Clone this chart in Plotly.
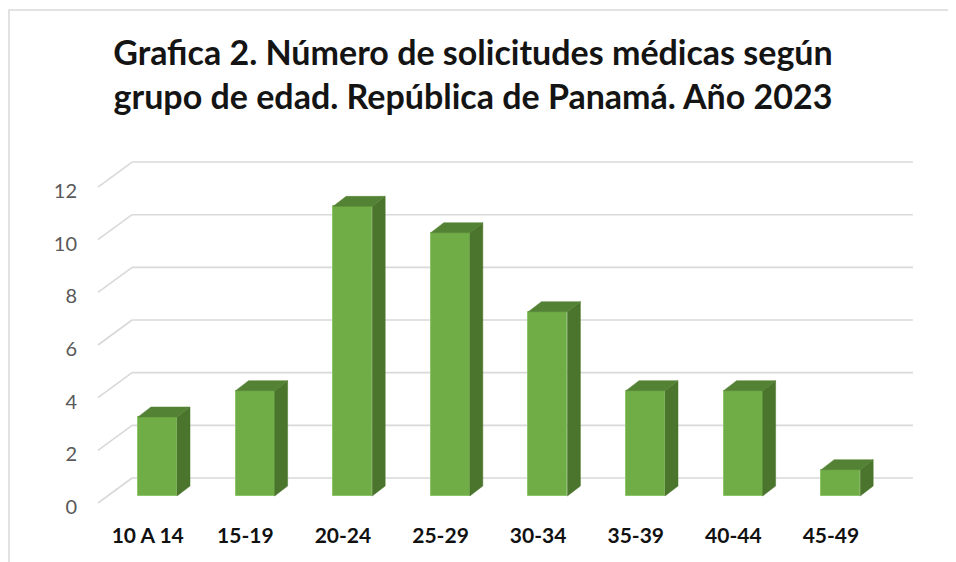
import plotly.graph_objects as go

categorias = ['10 A 14', '15-19', '20-24', '25-29', '30-34', '35-39', '40-44', '45-49']
solicitudes = [3, 4, 11, 10, 7, 4, 4, 1]
ticks_y = [0, 2, 4, 6, 8, 10, 12]

# pseudo 3D geometry (in data units)
ANCHO = 0.40      # bar width
PROF_X = 0.133    # bar depth, x
PROF_Y = 0.38     # bar depth, y
PARED_X = -0.26   # back wall left
FRENTE_X = -0.61  # front grid end
PARED_DY = 0.684
FRENTE_DY = -0.266
FIN_X = 7.74

VERDE = '#70AD47'
VERDE_LADO = '#4B742C'
VERDE_TOPE = '#548235'
GRID = '#D9D9D9'

# the page body adds 8px, so work in window pixels minus 8
OFF = 8
W, H = 956 - OFF, 562 - OFF
L, R, T, B = 84 - OFF, 930 - OFF, 150 - OFF, 520 - OFF
PX_X = 97.6
PX_Y = 26.33
X0_PX, Y0_PX = 157.5 - OFF, 496 - OFF

x_rango = [(L - X0_PX) / PX_X, (R - X0_PX) / PX_X]
y_rango = [(Y0_PX - B) / PX_Y, (Y0_PX - T) / PX_Y]

fig = go.Figure()

# grid lines: back wall + diagonal to front (below the bars)
for v in ticks_y:
    fig.add_shape(type='line', xref='x', yref='y', layer='below',
                  x0=FRENTE_X, y0=v + FRENTE_DY, x1=PARED_X, y1=v + PARED_DY,
                  line=dict(color=GRID, width=1.6))
    fig.add_shape(type='line', xref='x', yref='y', layer='below',
                  x0=PARED_X, y0=v + PARED_DY, x1=FIN_X, y1=v + PARED_DY,
                  line=dict(color=GRID, width=1.6))

# side and top faces
for i, v in enumerate(solicitudes):
    xr = i + ANCHO / 2
    xl = i - ANCHO / 2
    fig.add_trace(go.Scatter(
        x=[xr, xr + PROF_X, xr + PROF_X, xr, xr],
        y=[0, PROF_Y, v + PROF_Y, v, 0],
        fill='toself', fillcolor=VERDE_LADO, mode='lines',
        line=dict(color=VERDE_LADO, width=0.5), hoverinfo='skip', showlegend=False))
    fig.add_trace(go.Scatter(
        x=[xl, xr, xr + PROF_X, xl + PROF_X, xl],
        y=[v, v, v + PROF_Y, v + PROF_Y, v],
        fill='toself', fillcolor=VERDE_TOPE, mode='lines',
        line=dict(color=VERDE_TOPE, width=0.5), hoverinfo='skip', showlegend=False))

# front faces
fig.add_trace(go.Bar(x=list(range(len(categorias))), y=solicitudes, width=ANCHO,
                     marker=dict(color=VERDE, line=dict(color='#8CC46A', width=1)),
                     showlegend=False, hovertext=categorias))

fig.update_layout(
    width=W, height=H,
    margin=dict(l=L, r=W - R, t=T, b=H - B),
    paper_bgcolor='white', plot_bgcolor='white',
    font=dict(family='Lato', color='#595959'),
    title=dict(text='Grafica 2. Número de solicitudes médicas según<br>grupo de edad. República de Panamá. Año 2023',
               x=(473 - OFF) / W, xanchor='center', y=1 - 57 / H, yanchor='top',
               font=dict(family='Lato', size=34, color='#141414', weight='bold')),
    xaxis=dict(range=x_rango, showgrid=False, zeroline=False, showline=False,
               tickvals=[i - 0.1 for i in range(len(categorias))], ticktext=categorias,
               ticks='', tickfont=dict(size=21, color='#111111', weight='bold'),
               ticklabelstandoff=1),
    yaxis=dict(range=y_rango, showgrid=False, zeroline=False, showline=False,
               tickvals=[v + FRENTE_DY - 0.15 for v in ticks_y], ticktext=[str(v) for v in ticks_y],
               ticks='', tickfont=dict(size=20, color='#595959'), ticklabelstandoff=6),
    bargap=0,
)

# outer frame of the chart
fig.add_shape(type='rect', xref='paper', yref='paper',
              x0=(1 - L) / (R - L), x1=(W + 20 - L) / (R - L),
              y0=(B - (H + 20)) / (B - T), y1=(B - (10 - OFF)) / (B - T),
              line=dict(color='#D9D9D9', width=1.5), layer='below')

fig.write_html("out.html")
